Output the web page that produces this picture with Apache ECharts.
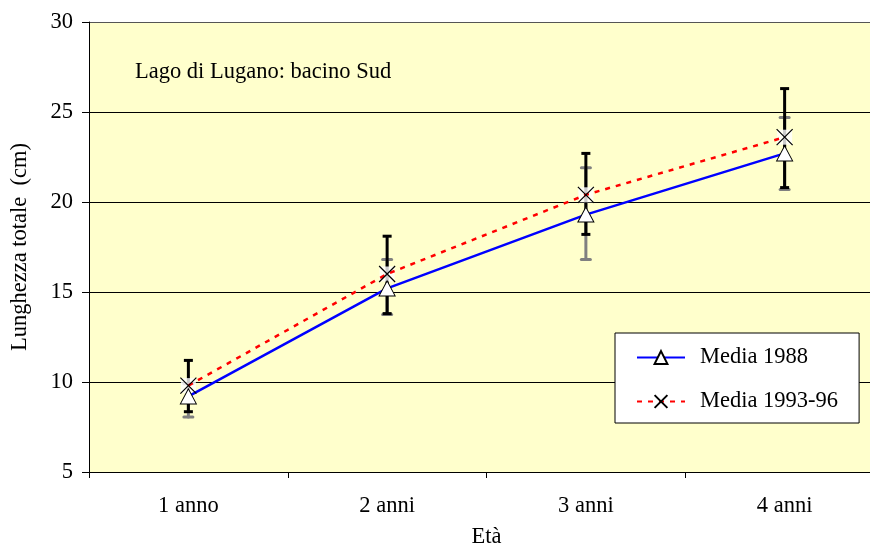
<!DOCTYPE html>
<html>
<head>
<meta charset="utf-8">
<script src="https://cdn.jsdelivr.net/npm/echarts@6/dist/echarts.min.js"></script>
<style>
  html, body { margin: 0; padding: 0; background: #fff; }
  #chart { width: 870px; height: 545px; }
</style>
</head>
<body>
<div id="chart"></div>
<script>
const categories = ['1 anno', '2 anni', '3 anni', '4 anni']
const media1988 = [9.2, 15.2, 19.3, 22.7]
const media9396 = [9.8, 16.0, 20.4, 23.6]
// error bar ends [low, high]
const err1988 = [[8.05, 9.9], [13.75, 16.8], [16.8, 21.9], [20.7, 24.7]]
const err9396 = [[8.35, 11.2], [13.8, 18.1], [18.2, 22.7], [20.8, 26.3]]

const FONT = '"Liberation Serif", "Times New Roman", serif'
const FS = 22.5
const X_PATH = 'path://M0,0L10,10M10,0L0,10'

// vertical bar with caps, drawn through axis coords
function errorBar(color, capRound) {
  return function (params, api) {
    const lo = api.coord([api.value(0), api.value(1)])
    const hi = api.coord([api.value(0), api.value(2)])
    const w = 4.5
    const style = { stroke: color, lineWidth: 3, lineCap: capRound ? 'round' : 'butt' }
    return {
      type: 'group',
      children: [
        { type: 'line', shape: { x1: lo[0], y1: lo[1], x2: hi[0], y2: hi[1] }, style },
        { type: 'line', shape: { x1: lo[0] - w, y1: lo[1], x2: lo[0] + w, y2: lo[1] }, style },
        { type: 'line', shape: { x1: hi[0] - w, y1: hi[1], x2: hi[0] + w, y2: hi[1] }, style }
      ]
    }
  }
}

const chart = echarts.init(document.getElementById('chart'))

chart.setOption({
  backgroundColor: '#ffffff',
  animation: false,
  textStyle: { fontFamily: FONT, color: '#000' },
  grid: {
    left: 89, top: 22, bottom: 73, right: -14,
    outerBoundsMode: 'none',
    containLabel: false,
    show: true, backgroundColor: '#FFFFCC', borderWidth: 0
  },
  title: {
    text: 'Lago di Lugano: bacino Sud',
    left: 130, top: 56,
    textStyle: { fontFamily: FONT, fontSize: FS, fontWeight: 'normal', color: '#000' }
  },
  legend: {
    orient: 'vertical',
    left: 615, top: 333,
    padding: [13, 21, 10, 21],
    itemGap: 21,
    itemWidth: 48,
    itemHeight: 16,
    backgroundColor: '#fff',
    borderColor: '#000',
    borderWidth: 1,
    borderRadius: 0,
    textStyle: { fontFamily: FONT, fontSize: FS, color: '#000', padding: [0, 0, 0, 10] },
    data: ['Media 1988', 'Media 1993-96']
  },
  xAxis: {
    type: 'category',
    data: categories,
    boundaryGap: true,
    name: 'Età',
    nameLocation: 'middle',
    nameGap: 54,
    nameTextStyle: { fontFamily: FONT, fontSize: FS, color: '#000' },
    axisLine: { lineStyle: { color: '#000', width: 1 } },
    axisTick: { show: true, length: 6, lineStyle: { color: '#000' } },
    axisLabel: { fontFamily: FONT, fontSize: FS, color: '#000', margin: 23 },
    splitLine: { show: false }
  },
  yAxis: {
    type: 'value',
    min: 5, max: 30, interval: 5,
    name: 'Lunghezza totale  (cm)',
    nameLocation: 'middle',
    nameGap: 57,
    nameTextStyle: { fontFamily: FONT, fontSize: FS, color: '#000' },
    axisLine: { show: true, lineStyle: { color: '#000', width: 1 } },
    axisTick: { show: true, length: 7, lineStyle: { color: '#000' } },
    axisLabel: { fontFamily: FONT, fontSize: FS, color: '#000', margin: 16 },
    splitLine: {
      show: true,
      lineStyle: { color: ['#000', '#000', '#000', '#000', '#000', '#555'], width: 1 }
    }
  },
  series: [
    {
      name: 'err1988',
      type: 'custom',
      renderItem: errorBar('#808080', true),
      encode: { x: 0, y: [1, 2] },
      data: err1988.map((e, i) => [i, e[0], e[1]]),
      z: 2,
      silent: true
    },
    {
      name: 'err9396',
      type: 'custom',
      renderItem: errorBar('#000000', false),
      encode: { x: 0, y: [1, 2] },
      data: err9396.map((e, i) => [i, e[0], e[1]]),
      z: 2,
      silent: true
    },
    {
      // white box behind the X markers
      name: 'xbg',
      type: 'scatter',
      symbol: 'rect',
      symbolSize: 15,
      itemStyle: { color: '#fff' },
      data: media9396,
      z: 3,
      silent: true
    },
    {
      name: 'Media 1988',
      type: 'line',
      data: media1988,
      symbol: 'triangle',
      symbolSize: [16, 15],
      showAllSymbol: true,
      lineStyle: { color: '#0000FF', width: 2.5 },
      itemStyle: { color: '#fff', borderColor: '#000', borderWidth: 1 },
      z: 4
    },
    {
      name: 'Media 1993-96',
      type: 'line',
      data: media9396,
      symbol: X_PATH,
      symbolSize: [16, 16],
      showAllSymbol: true,
      lineStyle: { color: '#FF0000', width: 2.5, type: [5, 6] },
      itemStyle: { color: 'none', borderColor: '#000', borderWidth: 1.2 },
      z: 4
    }
  ]
})
</script>
</body>
</html>
